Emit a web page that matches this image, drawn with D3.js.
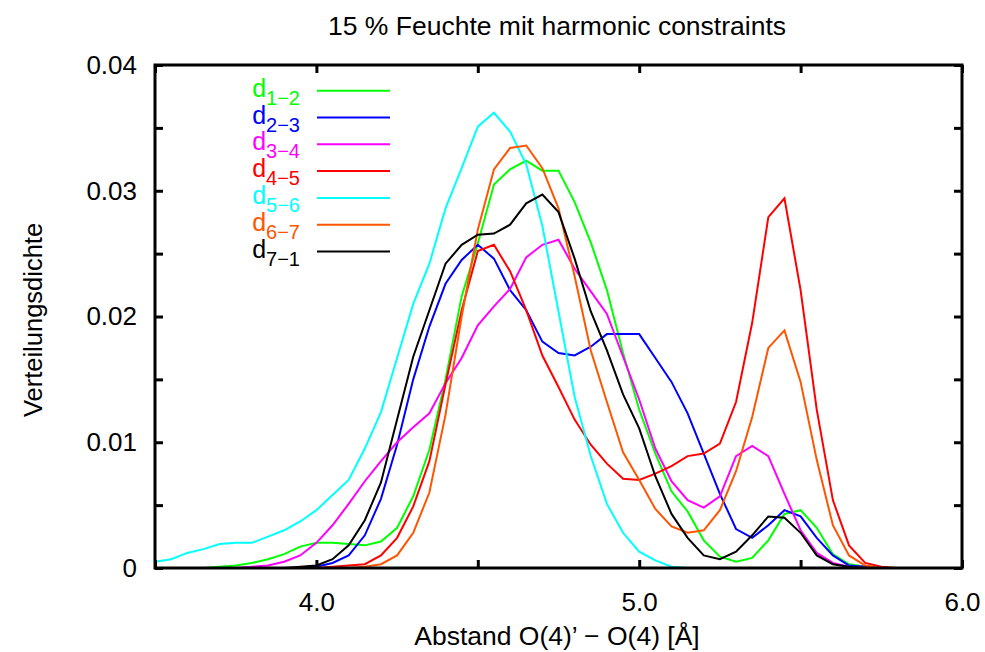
<!DOCTYPE html>
<html>
<head>
<meta charset="utf-8">
<script src="https://cdn.jsdelivr.net/npm/d3@7"></script>
<style>
  body { margin: 0; background: #fff; }
  svg { display: block; font-family: "Liberation Sans", Arial, Helvetica, sans-serif; }
</style>
</head>
<body>
<svg id="chart" width="985" height="652"></svg>
<script>
// O–O distance grid (Å)
const distances = [3.50, 3.55, 3.60, 3.65, 3.70, 3.75, 3.80, 3.85, 3.90, 3.95,
                   4.00, 4.05, 4.10, 4.15, 4.20, 4.25, 4.30, 4.35, 4.40, 4.45,
                   4.50, 4.55, 4.60, 4.65, 4.70, 4.75, 4.80, 4.85, 4.90, 4.95,
                   5.00, 5.05, 5.10, 5.15, 5.20, 5.25, 5.30, 5.35, 5.40, 5.45,
                   5.50, 5.55, 5.60, 5.65, 5.70, 5.75, 5.80, 5.85, 5.90, 5.95];

// distribution densities (in units of 0.001)
const d12 = [0, 0, 0, 0, 0.1, 0.2, 0.4, 0.7, 1.1, 1.7,
             2.0, 2.0, 1.9, 1.8, 2.1, 3.2, 5.7, 9.4, 15.0, 21.6,
             25.8, 30.5, 31.7, 32.4, 31.6, 31.6, 29.1, 25.9, 22.1, 17.1,
             12.6, 9.1, 6.1, 4.5, 2.2, 0.9, 0.5, 0.8, 2.2, 4.3,
             4.6, 3.2, 1.1, 0.3, 0.1, 0, 0, 0, 0, 0];
const d23 = [0, 0, 0, 0, 0, 0, 0, 0, 0, 0,
             0.1, 0.4, 1.0, 2.6, 5.5, 9.8, 15.0, 19.2, 22.6, 24.5,
             25.7, 24.6, 22.1, 20.5, 18.0, 17.1, 16.9, 17.6, 18.6, 18.6,
             18.6, 16.7, 14.8, 12.3, 9.1, 5.9, 3.1, 2.4, 3.4, 4.6,
             4.1, 2.4, 1.0, 0.2, 0.1, 0, 0, 0, 0, 0];
const d34 = [0, 0, 0, 0, 0, 0, 0.1, 0.2, 0.5, 1.0,
             2.0, 3.4, 5.1, 6.9, 8.5, 10.0, 11.2, 12.3, 14.7, 16.7,
             19.3, 20.8, 22.2, 24.7, 25.7, 26.1, 23.8, 22.0, 20.2, 16.8,
             13.4, 9.5, 6.9, 5.4, 4.8, 5.7, 8.9, 9.7, 8.9, 5.9,
             3.0, 1.2, 0.4, 0.1, 0, 0, 0, 0, 0, 0];
const d45 = [0, 0, 0, 0, 0, 0, 0, 0, 0, 0,
             0, 0.1, 0.2, 0.3, 1.0, 2.4, 4.9, 8.5, 14.6, 20.5,
             25.2, 25.7, 23.6, 20.5, 16.9, 14.4, 11.8, 9.8, 8.3, 7.1,
             7.0, 7.5, 8.1, 8.9, 9.1, 9.9, 13.2, 19.5, 27.9, 29.4,
             22.1, 12.6, 5.4, 1.8, 0.4, 0.1, 0, 0, 0, 0];
const d56 = [0.5, 0.7, 1.2, 1.5, 1.9, 2.0, 2.0, 2.5, 3.0, 3.7,
             4.6, 5.8, 7.0, 9.5, 12.4, 16.7, 21.0, 24.2, 28.6, 31.8,
             35.1, 36.2, 34.7, 32.1, 27.2, 20.4, 13.6, 8.9, 5.1, 2.8,
             1.3, 0.6, 0.1, 0, 0, 0, 0, 0, 0, 0,
             0, 0, 0, 0, 0, 0, 0, 0, 0, 0];
const d67 = [0, 0, 0, 0, 0, 0, 0, 0, 0, 0,
             0, 0, 0, 0.1, 0.3, 1.0, 2.8, 6.0, 12.2, 20.0,
             26.9, 31.7, 33.4, 33.6, 31.8, 28.6, 23.2, 17.3, 13.2, 9.2,
             7.0, 4.7, 3.3, 2.8, 3.0, 4.6, 7.7, 12.0, 17.5, 18.9,
             14.8, 8.6, 3.4, 1.0, 0.2, 0, 0, 0, 0, 0];
const d71 = [0, 0, 0, 0, 0, 0, 0, 0, 0, 0.1,
             0.2, 0.7, 1.8, 3.8, 6.8, 11.8, 16.8, 20.5, 24.2, 25.7,
             26.5, 26.6, 27.3, 29.0, 29.7, 28.3, 24.6, 20.4, 17.3, 13.8,
             11.1, 7.3, 4.3, 2.4, 1.0, 0.7, 1.3, 2.6, 4.1, 4.0,
             2.8, 1.0, 0.3, 0.1, 0, 0, 0, 0, 0, 0];

const seriesNames = ["1\u22122", "2\u22123", "3\u22124", "4\u22125", "5\u22126", "6\u22127", "7\u22121"];
const seriesValues = [d12, d23, d34, d45, d56, d67, d71];
const seriesColors = ["#00ff00", "#0000ff", "#ff00ff", "#ff0000", "#00ffff", "#ff5500", "#000000"];

const xTicks = [3.5, 4.0, 4.5, 5.0, 5.5, 6.0];
const xTickLabels = ["", "4.0", "", "5.0", "", "6.0"];
const yTicks = [0, 0.005, 0.01, 0.015, 0.02, 0.025, 0.03, 0.035, 0.04];
const yTickLabels = ["0", "", "0.01", "", "0.02", "", "0.03", "", "0.04"];

const titleText = "15 % Feuchte mit harmonic constraints";
const xTitle = "Abstand O(4)\u2019 \u2212 O(4) [\u00c5]";
const yTitle = "Verteilungsdichte";

const svg = d3.select("#chart");
const plotLeft = 155, plotRight = 962, plotTop = 65, plotBottom = 568;

const x = d3.scaleLinear().domain([3.5, 6.0]).range([plotLeft, plotRight]);
const y = d3.scaleLinear().domain([0, 0.04]).range([plotBottom, plotTop]);

// curves
const line = d3.line()
  .x((d, i) => x(distances[i]))
  .y(d => y(d / 1000));

const plot = svg.append("g");
seriesValues.forEach((vals, k) => {
  plot.append("path")
    .datum(vals)
    .attr("d", line)
    .attr("fill", "none")
    .attr("stroke", seriesColors[k])
    .attr("stroke-width", 2)
    .attr("stroke-linejoin", "miter");
});

// axes with inward ticks, mirrored on top and right
const tickLen = 8;
const styleAxis = g => {
  g.select(".domain").remove();
  g.selectAll(".tick line").attr("stroke", "#000").attr("stroke-width", 3);
  g.selectAll(".tick text").attr("fill", "#000").attr("font-size", 26)
    .attr("font-family", "'Liberation Sans', Arial, sans-serif");
};

svg.append("g")
  .attr("transform", `translate(0,${plotBottom})`)
  .call(d3.axisBottom(x).tickValues(xTicks).tickSize(-tickLen).tickPadding(25)
        .tickFormat((d, i) => xTickLabels[i]))
  .call(styleAxis);

svg.append("g")
  .attr("transform", `translate(0,${plotTop})`)
  .call(d3.axisTop(x).tickValues(xTicks).tickSize(-tickLen).tickFormat(""))
  .call(styleAxis);

svg.append("g")
  .attr("transform", `translate(${plotLeft},0)`)
  .call(d3.axisLeft(y).tickValues(yTicks).tickSize(-tickLen).tickPadding(18)
        .tickFormat((d, i) => yTickLabels[i]))
  .call(styleAxis);

svg.append("g")
  .attr("transform", `translate(${plotRight},0)`)
  .call(d3.axisRight(y).tickValues(yTicks).tickSize(-tickLen).tickFormat(""))
  .call(styleAxis);

// frame
svg.append("rect")
  .attr("x", plotLeft).attr("y", plotTop)
  .attr("width", plotRight - plotLeft).attr("height", plotBottom - plotTop)
  .attr("fill", "none").attr("stroke", "#000").attr("stroke-width", 3);

// titles
svg.append("text")
  .attr("x", 557).attr("y", 35)
  .attr("text-anchor", "middle").attr("font-size", 26.5)
  .text(titleText);

svg.append("text")
  .attr("x", 557).attr("y", 645)
  .attr("text-anchor", "middle").attr("font-size", 26.5)
  .text(xTitle);

svg.append("text")
  .attr("transform", "translate(42,320) rotate(-90)")
  .attr("text-anchor", "middle").attr("font-size", 25.5)
  .text(yTitle);

// legend
const legend = svg.append("g");
seriesNames.forEach((name, k) => {
  const ly = 90.7 + k * 26.8;
  legend.append("line")
    .attr("x1", 317).attr("x2", 390)
    .attr("y1", ly).attr("y2", ly)
    .attr("stroke", seriesColors[k]).attr("stroke-width", 2);
  const t = legend.append("text")
    .attr("x", 300).attr("y", ly + 6)
    .attr("text-anchor", "end")
    .attr("fill", seriesColors[k]);
  t.append("tspan").attr("font-size", 25).text("d");
  t.append("tspan").attr("font-size", 20).attr("dy", 8).text(name);
});
</script>
</body>
</html>
